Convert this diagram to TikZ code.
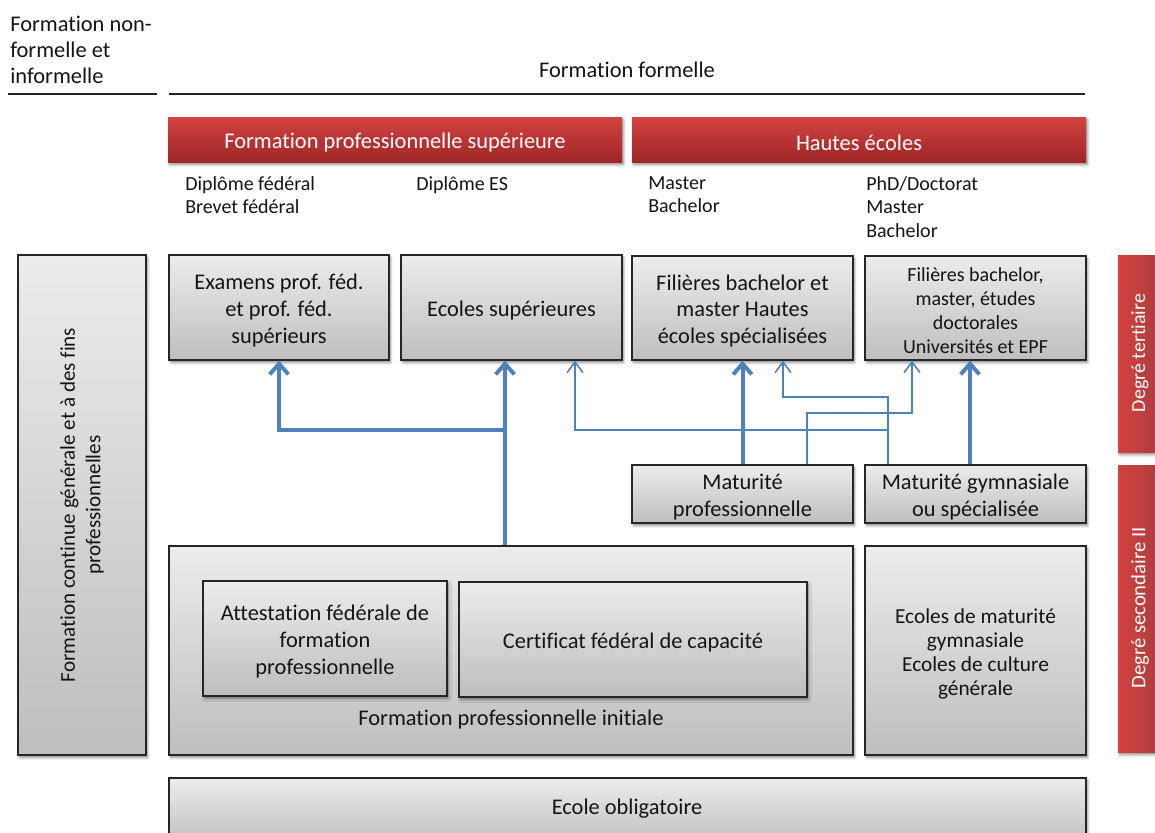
\documentclass[tikz,border=0pt]{standalone}
\usepackage{fontspec}
\setmainfont{Carlito}[Ligatures=NoCommon]
\usetikzlibrary{arrows.meta,shadows.blur}
\definecolor{boxtop}{RGB}{236,236,236}
\definecolor{boxbot}{RGB}{190,190,190}
\definecolor{redtop}{RGB}{210,66,64}
\definecolor{redbot}{RGB}{160,38,40}
\definecolor{arrblue}{RGB}{79,129,189}
\definecolor{txt}{RGB}{20,20,20}
\tikzset{
  graybox/.style={draw=black!85, line width=1pt, top color=boxtop, bottom color=boxbot,
    inner sep=0pt,
    blur shadow={shadow xshift=1.2pt, shadow yshift=-2pt, shadow blur steps=6, shadow opacity=45}},
  redbox/.style={draw=none, top color=redtop, bottom color=redbot, inner sep=0pt,
    blur shadow={shadow xshift=1.2pt, shadow yshift=-2pt, shadow blur steps=6, shadow opacity=45}},
  redboxh/.style={draw=none, left color=redtop, right color=redbot!90, inner sep=0pt,
    blur shadow={shadow xshift=1.2pt, shadow yshift=-2pt, shadow blur steps=6, shadow opacity=45}},
  boxtext/.style={inner sep=0pt, align=center, text=txt},
  whitetext/.style={inner sep=0pt, align=center, text=white},
  lbl/.style={inner sep=0pt, align=left, text=txt, anchor=north west},
  smallfont/.style={font=\fontsize{15}{17.8}\selectfont},
  bigarr/.style={draw=arrblue, line width=3pt, -{Straight Barb[length=8pt,width=14pt]}},
  thinarr/.style={draw=arrblue, line width=1.2pt, -{Straight Barb[length=8pt,width=12pt]}},
  rule/.style={draw=black!85, line width=1pt},
}
% \rbox{box style}{text options}{name}{x1}{y1}{x2}{y2}{text}
\newcommand\rbox[8]{%
  \node[minimum width={(#6-#4)*0.75pt}, minimum height={(#7-#5)*0.75pt}, #1]
    (#3) at ({(#4+#6)/2},{(#5+#7)/2}) {};
  \node[#2] (#3-t) at ([yshift=-2.2pt]#3.center) {#8};}
\begin{document}
\begin{tikzpicture}[x=0.75pt,y=-0.75pt,font=\fontsize{16.8}{20}\selectfont]
\path[use as bounding box] (0,0) rectangle (1155,832);
\clip (0,0) rectangle (1155,832);

% top labels and rules
\node[lbl, font=\fontsize{16.8}{19.3}\selectfont] (nf) at (10,16) {Formation non-\\formelle et\\informelle};
\coordinate (r1a) at (8,94); \coordinate (r1b) at (157,94);
\coordinate (r2a) at (169,94); \coordinate (r2b) at (1085,94);
\draw[rule] (r1a) -- (r1b);
\draw[rule] (r2a) -- (r2b);
\node[inner sep=0pt, text=txt] (ff) at (627,70) {Formation formelle};

% red headers
\rbox{redbox}{whitetext}{fps}{168}{117}{622}{162}{Formation professionnelle supérieure}
\rbox{redbox}{whitetext}{he}{632}{117}{1086}{162}{Hautes écoles}

% diploma labels
\node[lbl, smallfont] (d1) at (185,176) {Diplôme fédéral\\Brevet fédéral};
\node[lbl, smallfont] (d2) at (416,176) {Diplôme ES};
\node[lbl, smallfont] (d3) at (648,176) {Master\\Bachelor};
\node[lbl, smallfont] (d4) at (866,176) {PhD/Doctorat\\Master\\Bachelor};

% left box
\node[graybox, minimum width=96pt, minimum height=375pt] (fc) at (82,505) {};
\node[rotate=90, boxtext, font=\fontsize{15.8}{19}\selectfont] (fct) at (fc.center) {Formation continue générale et à des fins\\professionnelles};

% tertiary boxes
\rbox{graybox}{boxtext}{ex}{169}{255}{389}{360}{Examens prof. féd.\\et prof. féd.\\supérieurs}
\rbox{graybox}{boxtext}{es}{401}{255}{622}{360}{Ecoles supérieures}
\rbox{graybox}{boxtext}{hes}{632}{256}{853}{360}{Filières bachelor et\\master Hautes\\écoles spécialisées}
\rbox{graybox}{boxtext, font=\fontsize{15}{18}\selectfont}{uni}{865}{256}{1086}{360}{Filières bachelor,\\master, études\\doctorales\\Universités et EPF}

% maturity boxes
\rbox{graybox}{boxtext}{mp}{632}{465}{853}{523}{Maturité\\professionnelle}
\rbox{graybox}{boxtext}{mg}{865}{465}{1086}{523}{Maturité gymnasiale\\ou spécialisée}

% secondary II
\node[graybox, minimum width=513pt, minimum height=156.75pt] (fpi) at (511,650.5) {};
\rbox{graybox}{boxtext}{afp}{203}{581}{447}{696}{Attestation fédérale de\\formation\\professionnelle}
\rbox{graybox}{boxtext}{cfc}{459}{582}{807}{697}{Certificat fédéral de capacité}
\node[boxtext] (fpit) at (511,720) {Formation professionnelle initiale};
\rbox{graybox}{boxtext, font=\fontsize{16}{18}\selectfont}{emg}{865}{546}{1086}{755}{Ecoles de maturité\\gymnasiale\\Ecoles de culture\\générale}

% compulsory school
\node[graybox, minimum width=687.75pt, minimum height=50.25pt] (eo) at (627.5,811.5) {};
\node[boxtext] (eot) at (627,809) {Ecole obligatoire};

% side red bars
\node[redboxh, minimum width=35.25pt, minimum height=147.75pt] (dt) at (1141.5,353.5) {};
\node[rotate=90, whitetext, smallfont] (dtt) at (1140,353) {Degré tertiaire};
\node[redboxh, minimum width=35.25pt, minimum height=215.25pt] (ds) at (1141.5,608.5) {};
\node[rotate=90, whitetext, font=\fontsize{15.5}{18}\selectfont] (dst) at (1140,608) {Degré secondaire II};

% thin connectors
\coordinate (t1) at (888,430);
\coordinate (t2) at (888,397);
\coordinate (ta) at (575,430);
\coordinate (tb) at (783,397);
\coordinate (tc) at (807,413);
\coordinate (td) at (912,413);
\draw[thinarr] (mg.north -| t1) -- (t1) -- (ta) -- (ta |- es.south);
\draw[thinarr] (t1) -- (t2) -- (tb) -- (tb |- hes.south);
\draw[thinarr] (mp.north -| tc) -- (tc) -- (td) -- (td |- uni.south);

% thick connectors
\coordinate (j1) at (505,430);
\coordinate (j2) at (970,430);
\draw[bigarr] (fpi.north -| j1) -- (es.south -| j1);
\draw[bigarr] (j1) -- (j1 -| ex.south) -- (ex.south);
\draw[bigarr] (mp.north) -- (hes.south);
\draw[bigarr] (mg.north -| j2) -- (uni.south -| j2);
\end{tikzpicture}
\end{document}
